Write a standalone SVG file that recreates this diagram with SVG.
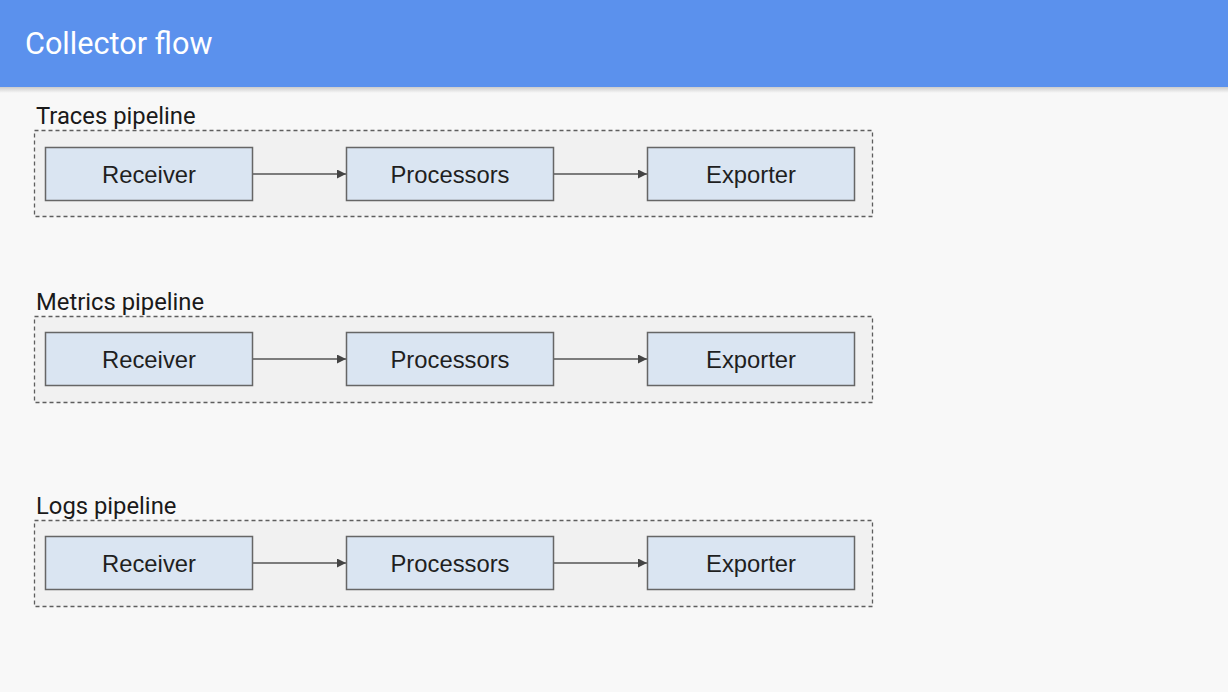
<svg xmlns="http://www.w3.org/2000/svg" width="1228" height="692" viewBox="0 0 1228 692">
<defs>
<style>
.bg{fill:#f8f8f8}
.hdr{fill:#5b91ed}
.title{font-family:Roboto,"Liberation Sans",sans-serif;font-size:30.6px;fill:#ffffff}
.plabel{font-family:Roboto,"Liberation Sans",sans-serif;font-size:23.8px;fill:#1a1a1a}
.cont{fill:#f1f1f1;stroke:#5e5e5e;stroke-width:1.3;stroke-dasharray:4 3}
.box{fill:#dae5f2;stroke:#666666;stroke-width:1.5}
.btext{font-family:"Liberation Sans",Arial,sans-serif;font-size:23.8px;fill:#1f1f1f;text-anchor:middle}
.conn{stroke:#555555;stroke-width:1.3;fill:none;marker-end:url(#arr)}
</style>
<marker id="arr" viewBox="0 0 10 10" refX="10" refY="5" markerWidth="11" markerHeight="9" markerUnits="userSpaceOnUse" orient="auto">
<path d="M0,0 L10,5 L0,10 z" fill="#444444"/>
</marker>
<linearGradient id="shadow" x1="0" y1="0" x2="0" y2="1">
<stop offset="0" stop-color="#000" stop-opacity="0.18"/>
<stop offset="1" stop-color="#000" stop-opacity="0"/>
</linearGradient>
</defs>
<rect class="bg" x="0" y="0" width="1228" height="692"/>
<g id="header">
<rect x="0" y="87" width="1228" height="6" fill="url(#shadow)"/>
<rect class="hdr" x="0" y="0" width="1228" height="87"/>
<text class="title" x="25" y="54">Collector flow</text>
</g>
<g id="traces-pipeline">
<text class="plabel" x="36" y="124">Traces pipeline</text>
<rect class="cont" x="34.5" y="130.5" width="838" height="86"/>
</g>
<g id="metrics-pipeline">
<text class="plabel" x="36" y="310">Metrics pipeline</text>
<rect class="cont" x="34.5" y="316.5" width="838" height="86"/>
</g>
<g id="logs-pipeline">
<text class="plabel" x="36" y="514">Logs pipeline</text>
<rect class="cont" x="34.5" y="520.5" width="838" height="86"/>
</g>
<g id="connectors">
<line class="conn" x1="253" y1="174" x2="346" y2="174"/>
<line class="conn" x1="554" y1="174" x2="647" y2="174"/>
<line class="conn" x1="253" y1="359" x2="346" y2="359"/>
<line class="conn" x1="554" y1="359" x2="647" y2="359"/>
<line class="conn" x1="253" y1="563" x2="346" y2="563"/>
<line class="conn" x1="554" y1="563" x2="647" y2="563"/>
</g>
<g id="traces-receiver"><rect class="box" x="45.5" y="147.5" width="207" height="53"/><text class="btext" x="149" y="183">Receiver</text></g>
<g id="traces-processors"><rect class="box" x="346.5" y="147.5" width="207" height="53"/><text class="btext" x="450" y="183">Processors</text></g>
<g id="traces-exporter"><rect class="box" x="647.5" y="147.5" width="207" height="53"/><text class="btext" x="751" y="183">Exporter</text></g>
<g id="metrics-receiver"><rect class="box" x="45.5" y="332.5" width="207" height="53"/><text class="btext" x="149" y="368">Receiver</text></g>
<g id="metrics-processors"><rect class="box" x="346.5" y="332.5" width="207" height="53"/><text class="btext" x="450" y="368">Processors</text></g>
<g id="metrics-exporter"><rect class="box" x="647.5" y="332.5" width="207" height="53"/><text class="btext" x="751" y="368">Exporter</text></g>
<g id="logs-receiver"><rect class="box" x="45.5" y="536.5" width="207" height="53"/><text class="btext" x="149" y="572">Receiver</text></g>
<g id="logs-processors"><rect class="box" x="346.5" y="536.5" width="207" height="53"/><text class="btext" x="450" y="572">Processors</text></g>
<g id="logs-exporter"><rect class="box" x="647.5" y="536.5" width="207" height="53"/><text class="btext" x="751" y="572">Exporter</text></g>
</svg>
